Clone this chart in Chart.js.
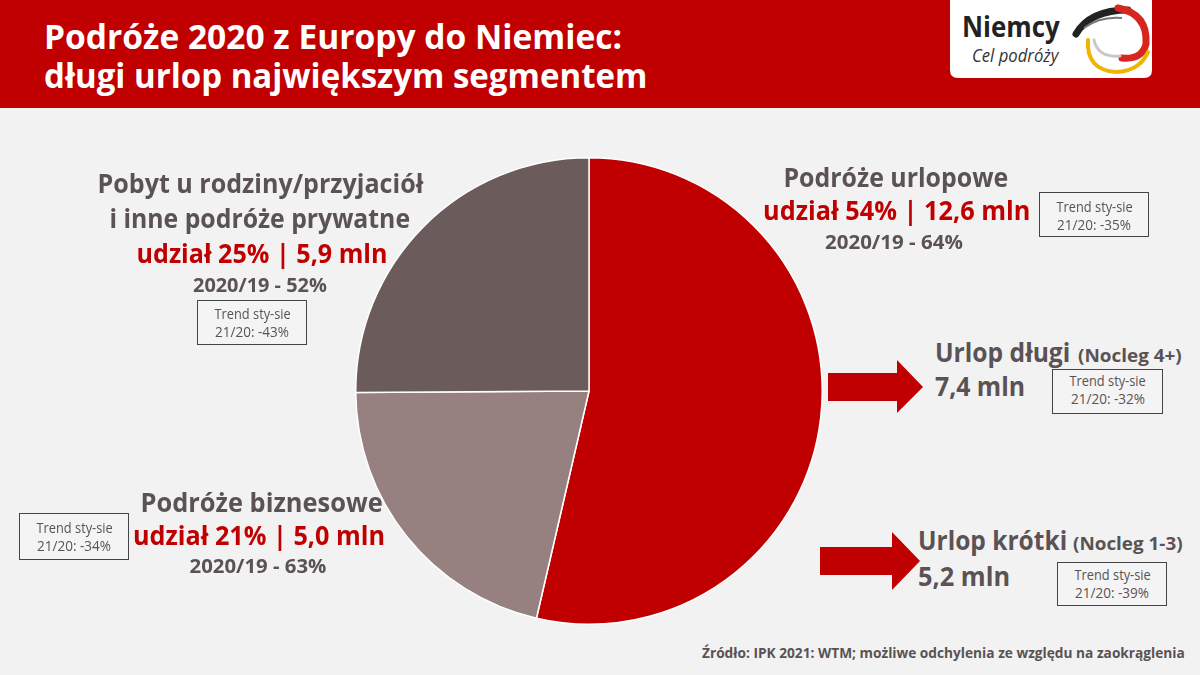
<!DOCTYPE html>
<html lang="pl">
<head>
<meta charset="utf-8">
<title>Podróże 2020 z Europy do Niemiec</title>
<script src="https://cdn.jsdelivr.net/npm/chart.js@4.4.1/dist/chart.umd.min.js"></script>
<style>
  html, body { margin: 0; padding: 0; }
  body { width: 1200px; height: 675px; background: #f2f2f2; position: relative; overflow: hidden;
         font-family: "Open Sans", "DejaVu Sans", sans-serif; }
  #header { position: absolute; left: 0; top: 0; width: 1200px; height: 108px; background: #c00000; }
  #deco { position: absolute; left: 0; top: 0; width: 1200px; height: 675px; }
  #pieWrap { position: absolute; left: 355px; top: 157px; width: 468px; height: 468px; }
  .t { position: absolute; white-space: nowrap; }
  .box { position: absolute; border: 1.5px solid #444; box-sizing: border-box; background: #f4f4f4; }
</style>
</head>
<body>
<div id="header"></div>
<svg id="deco" viewBox="0 0 1200 675">
  <!-- logo -->
  <path d="M950,0 H1152 V70 Q1152,78 1144,78 H958 Q950,78 950,70 Z" fill="#ffffff"/>
  <path d="M1076,34 Q1090,10 1128,10" fill="none" stroke="#222" stroke-width="7" stroke-linecap="round"/>
  <path d="M1084,28 Q1100,16 1122,18" fill="none" stroke="#777" stroke-width="2"/>
  <path d="M1118,8 Q1148,14 1146,44 Q1142,60 1122,58" fill="none" stroke="#d7261e" stroke-width="7" stroke-linecap="round"/>
  <path d="M1088,40 Q1086,70 1116,72 Q1140,71 1148,52" fill="none" stroke="#f0b400" stroke-width="4" stroke-linecap="round"/>
  <path d="M1094,40 Q1098,58 1120,56" fill="none" stroke="#c8c8c8" stroke-width="3" stroke-linecap="round"/>
  <!-- arrows -->
  <polygon points="828,373 897,373 897,360 923,387 897,413 897,401 828,401" fill="#c00000"/>
  <polygon points="820,547 892,547 892,532 920,561 892,590 892,575 820,575" fill="#c00000"/>
</svg>
<div id="pieWrap"><canvas id="pie"></canvas></div>

<script>
// Segmenty podróży 2020 (mln podróży)
const segments = ['Podróże urlopowe', 'Podróże biznesowe', 'Pobyt u rodziny/przyjaciół i inne podróże prywatne'];
const valuesMln = [12.6, 5.0, 5.9];
const shares = [54, 21, 25];
const change2019 = [64, 63, 52];
const trends = [-35, -34, -43];
const colors = ['#c00000', '#968080', '#6b5b5b'];

// Podział podróży urlopowych
const holidayTypes = ['Urlop długi', 'Urlop krótki'];
const holidayNights = ['Nocleg 4+', 'Nocleg 1-3'];
const holidayMln = [7.4, 5.2];
const holidayTrends = [-32, -39];

const GREY = '#5a5254';
const RED = '#c00000';

function fmt(v) { return v.toFixed(1).replace('.', ','); }

// tekst pozycjonowany na linii bazowej, dopasowany do szerokosci
function put(text, x, base, size, o) {
  o = o || {};
  const el = document.createElement('div');
  el.className = 't';
  el.textContent = text;
  el.style.fontSize = size + 'px';
  el.style.lineHeight = size + 'px';
  el.style.fontWeight = o.weight || 'bold';
  el.style.color = o.color || GREY;
  if (o.italic) el.style.fontStyle = 'italic';
  document.body.appendChild(el);
  const w = el.offsetWidth;
  const s = o.w ? o.w / w : 1;
  const align = o.align || 'left';
  let left = x;
  if (align === 'center') left = x - w / 2;
  if (align === 'right') left = x - w;
  el.style.left = left + 'px';
  el.style.top = (base - 0.888 * size) + 'px';
  el.style.transformOrigin = align === 'center' ? 'center' : align;
  el.style.transform = 'scaleX(' + s + ')';
  return el;
}

function trendBox(x, y, w, h, val, b1, b2) {
  const d = document.createElement('div');
  d.className = 'box';
  d.style.left = x + 'px'; d.style.top = y + 'px';
  d.style.width = w + 'px'; d.style.height = h + 'px';
  document.body.appendChild(d);
  const cx = x + w / 2;
  put('Trend sty-sie', cx, b1, 15, { weight: 'normal', align: 'center', w: 76 });
  put('21/20: ' + val + '%', cx, b2, 15, { weight: 'normal', align: 'center', w: 74 });
}

function share(i) { return 'udział ' + shares[i] + '% | ' + fmt(valuesMln[i]) + ' mln'; }

window.addEventListener('load', () => {
  // tytul
  put('Podróże 2020 z Europy do Niemiec:', 44, 49, 34, { color: '#fff', w: 578 });
  put('długi urlop największym segmentem', 44, 88, 34, { color: '#fff', w: 603 });

  // logo
  put('Niemcy', 962, 37, 28, { color: '#222', w: 98 });
  put('Cel podróży', 972, 63, 19, { color: '#333', weight: 'normal', italic: true, w: 86 });

  // urlopowe
  put(segments[0], 896, 187, 27, { align: 'center', w: 225 });
  put(share(0), 896, 220, 27, { align: 'center', w: 267, color: RED });
  put('2020/19 - ' + change2019[0] + '%', 894, 250, 19, { align: 'center', w: 138 });
  trendBox(1039, 192, 110, 45, trends[0], 212, 230);

  // rodzina / przyjaciele
  put('Pobyt u rodziny/przyjaciół', 260, 193, 27, { align: 'center', w: 326 });
  put('i inne podróże prywatne', 260, 228, 27, { align: 'center', w: 301 });
  put(share(2), 262, 263, 27, { align: 'center', w: 251, color: RED });
  put('2020/19 - ' + change2019[2] + '%', 260, 293, 19, { align: 'center', w: 134 });
  trendBox(197, 300, 110, 45, trends[2], 319, 337);

  // biznesowe
  put(segments[1], 261, 512, 27, { align: 'center', w: 242 });
  put(share(1), 259, 545, 27, { align: 'center', w: 252, color: RED });
  put('2020/19 - ' + change2019[1] + '%', 258, 574, 19, { align: 'center', w: 137 });
  trendBox(19, 513, 110, 47, trends[1], 533, 551);

  // urlop dlugi / krotki
  put(holidayTypes[0], 935, 362, 27, { w: 135 });
  put('(' + holidayNights[0] + ')', 1078, 362, 18, { w: 104 });
  put(fmt(holidayMln[0]) + ' mln', 935, 396, 27, { w: 90 });
  trendBox(1052, 369, 111, 45, holidayTrends[0], 386, 404);

  put(holidayTypes[1], 918, 550, 27, { w: 149 });
  put('(' + holidayNights[1] + ')', 1073, 550, 18, { w: 110 });
  put(fmt(holidayMln[1]) + ' mln', 918, 586, 27, { w: 92 });
  trendBox(1057, 562, 110, 44, holidayTrends[1], 580, 598);

  // zrodlo
  put('Źródło: IPK 2021: WTM; możliwe odchylenia ze względu na zaokrąglenia', 1185, 658, 15,
      { align: 'right', w: 483 });

  const ctx = document.getElementById('pie').getContext('2d');
  new Chart(ctx, {
    type: 'pie',
    data: {
      labels: segments,
      datasets: [{
        data: valuesMln,
        backgroundColor: colors,
        borderColor: '#ffffff',
        borderWidth: 1.5
      }]
    },
    options: {
      responsive: true,
      maintainAspectRatio: false,
      animation: false,
      layout: { padding: 0 },
      plugins: {
        legend: { display: false },
        tooltip: { enabled: false }
      }
    }
  });
});
</script>
</body>
</html>
